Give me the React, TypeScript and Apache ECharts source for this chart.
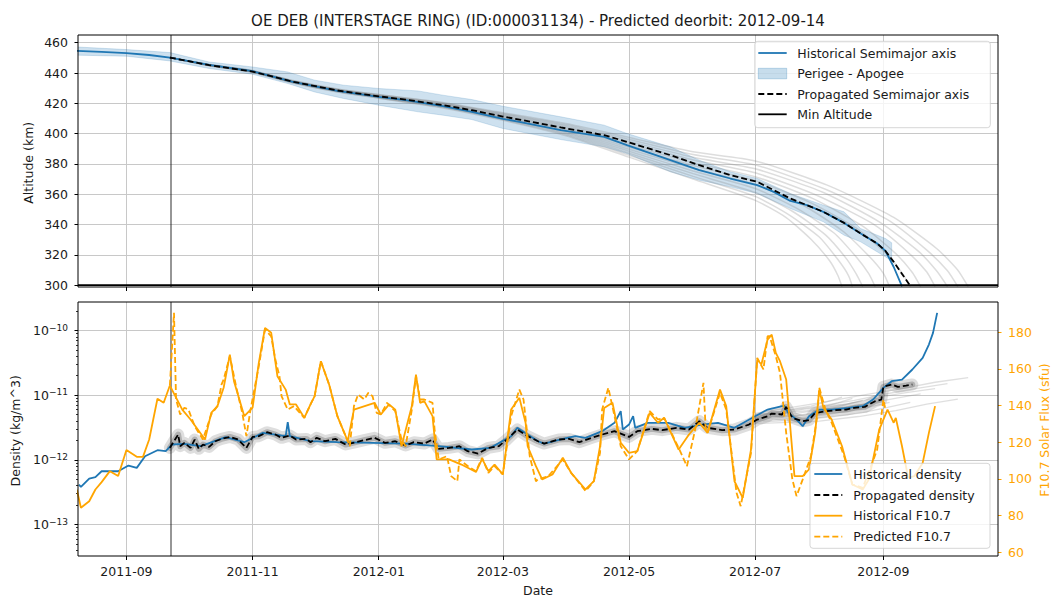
import React, { useEffect, useRef } from 'react';
import * as echarts from 'echarts';

// ---------- text ----------
const TITLE = 'OE DEB (INTERSTAGE RING) (ID:000031134) - Predicted deorbit: 2012-09-14';

// ---------- ticks ----------
const xTickDates = ['2011-09-01', '2011-11-01', '2012-01-01', '2012-03-01', '2012-05-01', '2012-07-01', '2012-09-01'];
const altTicks = [300, 320, 340, 360, 380, 400, 420, 440, 460];
const densTickExp = [-13, -12, -11, -10];
const densTickSup = ['−13', '−12', '−11', '−10'];
const fluxTicks = [60, 80, 100, 120, 140, 160, 180];
const propStartDate = '2011-09-22';
const minAltitude = 300;

// ---------- top: semimajor axis ----------
const smaDates = ['2011-08-08', '2011-08-20', '2011-09-01', '2011-09-12', '2011-09-22', '2011-10-11', '2011-11-01', '2011-11-20', '2011-12-12', '2012-01-01', '2012-01-14', '2012-02-01', '2012-02-15', '2012-03-01', '2012-03-09', '2012-03-29', '2012-04-19', '2012-04-30', '2012-05-21', '2012-06-04', '2012-06-19', '2012-07-02', '2012-07-10', '2012-07-18', '2012-07-26', '2012-08-03', '2012-08-13', '2012-08-21', '2012-08-29', '2012-09-02', '2012-09-06', '2012-09-10'];
const smaHist = [454.6, 453.9, 453.2, 451.9, 450.2, 445.4, 441.2, 434.3, 428.2, 424.2, 422.1, 418.1, 414.4, 409.8, 407.8, 402.3, 397.9, 392.4, 382.5, 375.9, 370.4, 366.0, 361.6, 355.6, 352.8, 348.4, 341.1, 334.1, 327.5, 322.6, 312.0, 299.2];

const smaPropDates = ['2011-09-22', '2011-10-11', '2011-11-01', '2011-11-20', '2011-12-12', '2012-01-01', '2012-01-14', '2012-02-01', '2012-02-15', '2012-03-01', '2012-03-09', '2012-03-29', '2012-04-19', '2012-04-30', '2012-05-21', '2012-06-04', '2012-06-19', '2012-07-02', '2012-07-10', '2012-07-18', '2012-07-26', '2012-08-03', '2012-08-13', '2012-08-21', '2012-08-29', '2012-09-02', '2012-09-06', '2012-09-14'];
const smaProp = [450.2, 445.2, 441.0, 434.4, 428.5, 424.6, 422.5, 418.8, 415.5, 411.3, 409.3, 404.1, 399.0, 394.6, 385.8, 379.2, 372.6, 368.2, 362.7, 357.2, 352.8, 348.4, 341.1, 334.1, 327.5, 322.6, 315.4, 299.5];

const bandDates = ['2011-08-08', '2011-09-01', '2011-09-22', '2011-10-11', '2011-11-01', '2011-11-18', '2011-12-01', '2011-12-15', '2012-01-01', '2012-01-20', '2012-02-01', '2012-02-15', '2012-03-01', '2012-03-29', '2012-04-19', '2012-04-30', '2012-05-21', '2012-06-04', '2012-06-19', '2012-07-02', '2012-07-18', '2012-08-03', '2012-08-13', '2012-08-21', '2012-09-02', '2012-09-05'];
const perigee = [451.8, 451.1, 448.0, 443.0, 439.2, 433.1, 427.5, 423.2, 418.8, 414.4, 412.2, 409.3, 403.4, 396.1, 391.3, 386.9, 374.8, 369.3, 364.9, 360.5, 350.6, 341.8, 333.0, 328.6, 318.7, 316.0];
const apogee = [457.2, 455.5, 453.5, 447.3, 444.0, 440.7, 435.3, 432.0, 429.8, 428.2, 425.4, 422.5, 418.1, 411.1, 405.6, 400.1, 391.3, 382.5, 374.8, 370.4, 360.5, 352.8, 348.4, 337.4, 330.8, 328.0];

// ensemble of propagated semimajor axis trajectories: common early dates + individual decay tails
const ensDates = ['2011-09-22', '2011-10-11', '2011-11-01', '2011-11-20', '2011-12-12', '2012-01-01', '2012-02-01', '2012-03-01', '2012-04-01', '2012-05-01', '2012-06-01', '2012-07-01'];
const ensEarly: number[][] = [
  [450.2, 444.8, 440.4, 433.6, 427.5, 423.4, 417.0, 408.8, 398.5, 384.5, 370.0, 356.0],
  [450.2, 444.9, 440.5, 433.8, 427.7, 423.6, 417.4, 409.3, 399.3, 385.8, 371.8, 358.6],
  [450.2, 445.0, 440.6, 433.9, 427.9, 423.9, 417.7, 409.8, 400.1, 387.1, 373.6, 361.2],
  [450.2, 445.0, 440.8, 434.1, 428.1, 424.1, 418.1, 410.3, 400.9, 388.4, 375.4, 363.8],
  [450.2, 445.1, 440.9, 434.2, 428.3, 424.4, 418.4, 410.8, 401.7, 389.7, 377.2, 366.4],
  [450.2, 445.2, 441.0, 434.4, 428.5, 424.6, 418.8, 411.3, 402.5, 391.0, 379.0, 369.0],
  [450.2, 445.3, 441.1, 434.6, 428.7, 424.8, 419.2, 411.8, 403.3, 392.3, 380.8, 371.6],
  [450.2, 445.4, 441.2, 434.7, 428.9, 425.1, 419.5, 412.3, 404.1, 393.6, 382.6, 374.2],
  [450.2, 445.4, 441.4, 434.9, 429.1, 425.3, 419.9, 412.8, 404.9, 394.9, 384.4, 376.8],
  [450.2, 445.5, 441.5, 435.0, 429.3, 425.6, 420.2, 413.3, 405.7, 396.2, 386.2, 379.4],
  [450.2, 445.6, 441.6, 435.2, 429.5, 425.8, 420.6, 413.8, 406.5, 397.5, 388.0, 382.0],
];
const ensTails: [string, number][][] = [
  [['2012-07-16', 344.6], ['2012-07-28', 330.3], ['2012-08-06', 316.1], ['2012-08-10', 306.4], ['2012-08-12', 299.0]],
  [['2012-07-17', 346.7], ['2012-08-01', 331.8], ['2012-08-10', 316.9], ['2012-08-15', 306.7], ['2012-08-17', 299.0]],
  [['2012-07-19', 348.8], ['2012-08-04', 333.2], ['2012-08-14', 317.7], ['2012-08-19', 307.1], ['2012-08-22', 299.0]],
  [['2012-07-21', 350.8], ['2012-08-08', 334.6], ['2012-08-19', 318.4], ['2012-08-25', 307.4], ['2012-08-28', 299.0]],
  [['2012-07-24', 352.9], ['2012-08-12', 336.1], ['2012-08-25', 319.2], ['2012-09-01', 307.8], ['2012-09-04', 299.0]],
  [['2012-07-27', 355.0], ['2012-08-19', 337.5], ['2012-09-03', 320.0], ['2012-09-10', 308.1], ['2012-09-14', 299.0]],
  [['2012-07-29', 357.1], ['2012-08-22', 338.9], ['2012-09-07', 320.8], ['2012-09-15', 308.4], ['2012-09-19', 299.0]],
  [['2012-07-31', 359.2], ['2012-08-27', 340.4], ['2012-09-13', 321.6], ['2012-09-22', 308.7], ['2012-09-26', 299.0]],
  [['2012-08-03', 361.2], ['2012-08-30', 341.8], ['2012-09-18', 322.3], ['2012-09-27', 309.0], ['2012-10-02', 299.0]],
  [['2012-08-04', 363.3], ['2012-09-03', 343.2], ['2012-09-22', 323.1], ['2012-10-02', 309.5], ['2012-10-07', 299.0]],
  [['2012-08-06', 365.4], ['2012-09-06', 344.7], ['2012-09-27', 323.9], ['2012-10-07', 309.9], ['2012-10-12', 299.0]],
];

// ---------- bottom: density (log10 kg/m^3) ----------
const densHistDates = ['2011-08-09', '2011-08-10', '2011-08-14', '2011-08-17', '2011-08-20', '2011-08-28', '2011-09-02', '2011-09-06', '2011-09-10', '2011-09-16', '2011-09-20', '2011-09-23', '2011-09-29', '2011-10-07', '2011-10-19', '2011-10-28', '2011-11-06', '2011-11-12', '2011-11-17', '2011-11-18', '2011-11-19', '2011-11-29', '2011-12-12', '2011-12-29', '2012-01-14', '2012-01-30', '2012-02-15', '2012-02-24', '2012-03-05', '2012-03-08', '2012-03-18', '2012-03-21', '2012-03-30', '2012-04-05', '2012-04-10', '2012-04-18', '2012-04-24', '2012-04-27', '2012-04-28', '2012-05-01', '2012-05-03', '2012-05-04', '2012-05-10', '2012-05-20', '2012-05-28', '2012-06-05', '2012-06-13', '2012-06-21', '2012-07-01', '2012-07-07', '2012-07-15', '2012-07-17', '2012-07-21', '2012-07-24', '2012-07-27', '2012-08-01', '2012-08-07', '2012-08-15', '2012-08-22', '2012-08-27', '2012-09-01', '2012-09-05', '2012-09-10', '2012-09-15', '2012-09-20', '2012-09-23', '2012-09-25', '2012-09-27'];
const densHist = [-12.382, -12.418, -12.289, -12.268, -12.176, -12.176, -12.088, -12.124, -11.944, -11.851, -11.866, -11.763, -11.753, -11.789, -11.650, -11.727, -11.583, -11.609, -11.634, -11.418, -11.634, -11.712, -11.727, -11.737, -11.748, -11.789, -11.840, -11.815, -11.634, -11.505, -11.712, -11.748, -11.676, -11.634, -11.660, -11.557, -11.428, -11.248, -11.531, -11.454, -11.325, -11.505, -11.428, -11.428, -11.505, -11.454, -11.428, -11.505, -11.325, -11.222, -11.160, -11.274, -11.377, -11.480, -11.325, -11.222, -11.222, -11.196, -11.170, -11.067, -10.887, -10.784, -10.758, -10.603, -10.423, -10.217, -10.036, -9.727];

const densPropDates = ['2011-09-22', '2011-09-24', '2011-09-26', '2011-09-27', '2011-09-29', '2011-10-02', '2011-10-04', '2011-10-06', '2011-10-08', '2011-10-11', '2011-10-14', '2011-10-17', '2011-10-21', '2011-10-25', '2011-10-29', '2011-11-01', '2011-11-04', '2011-11-08', '2011-11-12', '2011-11-15', '2011-11-19', '2011-11-22', '2011-11-27', '2011-11-29', '2011-12-02', '2011-12-06', '2011-12-11', '2011-12-16', '2011-12-21', '2011-12-25', '2011-12-30', '2012-01-04', '2012-01-09', '2012-01-14', '2012-01-18', '2012-01-23', '2012-01-27', '2012-01-30', '2012-02-04', '2012-02-09', '2012-02-13', '2012-02-18', '2012-02-23', '2012-02-28', '2012-03-03', '2012-03-08', '2012-03-13', '2012-03-18', '2012-03-21', '2012-03-28', '2012-04-02', '2012-04-07', '2012-04-13', '2012-04-18', '2012-04-24', '2012-05-01', '2012-05-05', '2012-05-12', '2012-05-17', '2012-05-24', '2012-05-30', '2012-06-04', '2012-06-08', '2012-06-15', '2012-06-21', '2012-06-28', '2012-07-02', '2012-07-07', '2012-07-09', '2012-07-14', '2012-07-16', '2012-07-19', '2012-07-24', '2012-07-27', '2012-07-30', '2012-08-04', '2012-08-09', '2012-08-14', '2012-08-18', '2012-08-23', '2012-08-28', '2012-08-31', '2012-09-01', '2012-09-05', '2012-09-08', '2012-09-12', '2012-09-15'];
const densProp = [-11.815, -11.712, -11.609, -11.789, -11.737, -11.815, -11.686, -11.830, -11.763, -11.800, -11.712, -11.676, -11.645, -11.686, -11.815, -11.645, -11.634, -11.573, -11.609, -11.660, -11.624, -11.686, -11.676, -11.727, -11.660, -11.712, -11.676, -11.763, -11.727, -11.696, -11.660, -11.737, -11.712, -11.779, -11.727, -11.748, -11.686, -11.830, -11.815, -11.789, -11.866, -11.902, -11.815, -11.789, -11.686, -11.531, -11.634, -11.712, -11.748, -11.686, -11.676, -11.727, -11.660, -11.609, -11.557, -11.645, -11.557, -11.521, -11.541, -11.505, -11.531, -11.403, -11.505, -11.541, -11.531, -11.454, -11.377, -11.325, -11.284, -11.299, -11.181, -11.351, -11.403, -11.387, -11.274, -11.248, -11.232, -11.222, -11.196, -11.181, -11.093, -11.067, -10.871, -10.835, -10.871, -10.851, -10.835];

// ensemble of propagated densities (late part, where they spread out)
const densEnsemble: [string, number][][] = [
  [['2012-07-01', -11.30], ['2012-07-12', -11.27], ['2012-07-20', -11.21], ['2012-07-28', -11.17], ['2012-08-05', -11.10], ['2012-08-12', -11.03]],
  [['2012-07-01', -11.32], ['2012-07-14', -11.28], ['2012-07-24', -11.22], ['2012-08-03', -11.18], ['2012-08-10', -11.12], ['2012-08-17', -11.05]],
  [['2012-07-01', -11.35], ['2012-07-16', -11.31], ['2012-07-27', -11.25], ['2012-08-06', -11.21], ['2012-08-15', -11.14], ['2012-08-22', -11.08]],
  [['2012-07-01', -11.38], ['2012-07-18', -11.33], ['2012-08-01', -11.28], ['2012-08-12', -11.22], ['2012-08-21', -11.15], ['2012-08-28', -11.09]],
  [['2012-07-01', -11.40], ['2012-07-20', -11.36], ['2012-08-03', -11.31], ['2012-08-16', -11.24], ['2012-08-27', -11.17], ['2012-09-04', -11.11]],
  [['2012-07-01', -11.42], ['2012-07-22', -11.38], ['2012-08-08', -11.33], ['2012-08-22', -11.27], ['2012-09-03', -11.19], ['2012-09-14', -11.11]],
  [['2012-07-01', -11.36], ['2012-07-24', -11.30], ['2012-08-10', -11.21], ['2012-08-26', -11.12], ['2012-09-08', -11.04], ['2012-09-19', -10.98]],
  [['2012-07-01', -11.33], ['2012-07-26', -11.24], ['2012-08-14', -11.14], ['2012-08-30', -11.03], ['2012-09-12', -10.96], ['2012-09-26', -10.90]],
  [['2012-07-01', -11.31], ['2012-07-28', -11.19], ['2012-08-18', -11.08], ['2012-09-04', -10.97], ['2012-09-18', -10.89], ['2012-10-02', -10.82]],
  [['2012-07-01', -11.44], ['2012-08-01', -11.40], ['2012-08-20', -11.33], ['2012-09-07', -11.24], ['2012-09-22', -11.14], ['2012-10-07', -11.06]],
  [['2012-07-01', -11.28], ['2012-08-01', -11.12], ['2012-08-22', -11.00], ['2012-09-10', -10.90], ['2012-09-26', -10.80], ['2012-10-12', -10.73]],
];

// ---------- bottom: F10.7 (sfu) ----------
const f107HistDates = ['2011-08-08', '2011-08-10', '2011-08-14', '2011-08-17', '2011-08-20', '2011-08-24', '2011-08-28', '2011-09-01', '2011-09-06', '2011-09-09', '2011-09-12', '2011-09-16', '2011-09-19', '2011-09-22', '2011-09-28', '2011-10-02', '2011-10-09', '2011-10-12', '2011-10-15', '2011-10-18', '2011-10-21', '2011-10-23', '2011-10-28', '2011-11-01', '2011-11-04', '2011-11-07', '2011-11-10', '2011-11-13', '2011-11-17', '2011-11-19', '2011-11-22', '2011-11-26', '2011-11-29', '2011-12-01', '2011-12-04', '2011-12-08', '2011-12-12', '2011-12-17', '2011-12-20', '2011-12-30', '2012-01-02', '2012-01-06', '2012-01-09', '2012-01-12', '2012-01-17', '2012-01-19', '2012-01-21', '2012-01-23', '2012-01-27', '2012-01-29', '2012-02-04', '2012-02-10', '2012-02-17', '2012-02-20', '2012-02-23', '2012-02-26', '2012-03-01', '2012-03-05', '2012-03-09', '2012-03-12', '2012-03-13', '2012-03-17', '2012-03-20', '2012-03-25', '2012-03-30', '2012-04-03', '2012-04-10', '2012-04-14', '2012-04-17', '2012-04-19', '2012-04-23', '2012-04-27', '2012-05-01', '2012-05-05', '2012-05-11', '2012-05-15', '2012-05-18', '2012-05-25', '2012-05-30', '2012-06-04', '2012-06-08', '2012-06-14', '2012-06-17', '2012-06-21', '2012-06-25', '2012-06-29', '2012-07-02', '2012-07-04', '2012-07-07', '2012-07-09', '2012-07-11', '2012-07-13', '2012-07-16', '2012-07-20', '2012-07-24', '2012-07-27', '2012-07-30', '2012-08-01', '2012-08-03', '2012-08-07', '2012-08-12', '2012-08-17', '2012-08-22', '2012-08-25', '2012-08-30', '2012-09-03', '2012-09-06', '2012-09-07', '2012-09-10', '2012-09-13', '2012-09-16', '2012-09-20', '2012-09-23', '2012-09-26'];
const f107Hist = [94.2, 84.2, 87.8, 94.2, 98.2, 104.2, 101.5, 115.7, 112.0, 112.0, 121.5, 143.7, 141.5, 150.9, 137.8, 132.4, 121.5, 136.0, 139.7, 149.7, 167.8, 153.3, 134.2, 138.8, 163.3, 182.4, 179.7, 156.0, 148.7, 140.6, 140.6, 133.3, 140.6, 145.1, 164.2, 151.5, 134.2, 120.6, 137.8, 141.5, 135.1, 140.6, 137.8, 117.8, 139.7, 156.9, 141.5, 142.4, 134.2, 110.6, 110.6, 107.8, 103.7, 110.9, 104.2, 107.8, 102.4, 137.8, 144.2, 130.6, 117.8, 106.9, 99.7, 102.4, 111.5, 103.3, 94.2, 98.7, 117.8, 138.7, 141.5, 119.7, 114.2, 115.1, 136.0, 130.6, 133.3, 116.0, 124.2, 130.6, 125.1, 148.7, 139.7, 98.7, 89.6, 116.0, 165.1, 162.4, 176.0, 178.7, 168.7, 164.2, 154.2, 101.5, 101.5, 105.1, 125.1, 148.7, 138.8, 132.4, 117.8, 96.9, 94.2, 99.7, 126.9, 137.8, 130.6, 133.3, 117.8, 100.6, 101.5, 108.7, 125.1, 139.7];

const f107PredDates = ['2011-09-22', '2011-09-24', '2011-09-25', '2011-09-27', '2011-09-29', '2011-10-01', '2011-10-04', '2011-10-08', '2011-10-12', '2011-10-15', '2011-10-17', '2011-10-18', '2011-10-21', '2011-10-24', '2011-10-27', '2011-10-29', '2011-10-31', '2011-11-04', '2011-11-07', '2011-11-10', '2011-11-12', '2011-11-14', '2011-11-15', '2011-11-18', '2011-11-21', '2011-11-26', '2011-11-29', '2011-12-01', '2011-12-04', '2011-12-08', '2011-12-12', '2011-12-16', '2011-12-18', '2011-12-20', '2011-12-22', '2011-12-25', '2011-12-27', '2011-12-29', '2011-12-31', '2012-01-02', '2012-01-05', '2012-01-09', '2012-01-12', '2012-01-14', '2012-01-17', '2012-01-19', '2012-01-21', '2012-01-23', '2012-01-27', '2012-01-28', '2012-01-30', '2012-02-03', '2012-02-05', '2012-02-08', '2012-02-09', '2012-02-13', '2012-02-17', '2012-02-20', '2012-02-23', '2012-02-26', '2012-03-01', '2012-03-05', '2012-03-09', '2012-03-11', '2012-03-14', '2012-03-17', '2012-03-18', '2012-03-23', '2012-03-30', '2012-04-03', '2012-04-10', '2012-04-14', '2012-04-17', '2012-04-18', '2012-04-21', '2012-04-24', '2012-04-27', '2012-05-01', '2012-05-05', '2012-05-11', '2012-05-15', '2012-05-18', '2012-05-25', '2012-05-29', '2012-06-02', '2012-06-06', '2012-06-07', '2012-06-08', '2012-06-14', '2012-06-17', '2012-06-22', '2012-06-24', '2012-06-29', '2012-07-02', '2012-07-05', '2012-07-07', '2012-07-08', '2012-07-11', '2012-07-13', '2012-07-16', '2012-07-19', '2012-07-21', '2012-07-24', '2012-07-28', '2012-07-31', '2012-08-01', '2012-08-04', '2012-08-07', '2012-08-13', '2012-08-17', '2012-08-22', '2012-08-26', '2012-08-29', '2012-09-01', '2012-09-02'];
const f107Pred = [150.9, 190.6, 143.3, 135.1, 138.8, 137.8, 128.7, 121.5, 135.1, 139.7, 151.5, 154.2, 166.9, 150.6, 136.0, 123.3, 137.8, 161.5, 181.5, 177.8, 165.1, 156.0, 145.1, 137.8, 139.7, 133.3, 140.6, 145.1, 164.2, 151.5, 134.2, 123.3, 117.8, 139.7, 146.0, 143.3, 147.0, 145.1, 136.0, 135.1, 141.5, 136.9, 121.5, 117.8, 137.8, 156.0, 143.3, 143.3, 141.5, 126.9, 110.6, 112.4, 101.5, 98.7, 110.6, 107.0, 104.2, 111.5, 103.3, 106.9, 102.4, 134.2, 148.7, 143.3, 112.4, 98.7, 99.7, 101.5, 110.6, 103.3, 93.3, 98.7, 114.2, 137.8, 149.7, 134.2, 117.8, 110.6, 115.1, 137.0, 132.4, 133.3, 116.9, 106.9, 126.9, 152.4, 128.7, 125.1, 146.9, 137.8, 92.4, 85.1, 114.2, 166.0, 159.7, 177.8, 177.8, 166.9, 157.8, 125.1, 99.7, 90.6, 99.7, 112.4, 134.2, 149.7, 137.8, 130.6, 112.4, 96.9, 95.1, 106.9, 116.0, 143.3, 137.8];

// ---------- helpers ----------
const t = (s: string) => {
  const [y, m, d] = s.split('-').map(Number);
  return new Date(y, m - 1, d).getTime();
};
const HOUR = 3600 * 1000;
const xMin = t('2011-08-08') + 14 * HOUR;
const xMax = t('2012-10-26') + 10 * HOUR;
const propStart = t(propStartDate) + 14 * HOUR;
const pairs = (dates: string[], vals: number[]) => dates.map((d, i) => [t(d), vals[i]]);
const xTicks = xTickDates.map(t);
const minorDens: number[] = [];
for (let e = -14; e <= -10; e++) {
  for (let k = 2; k <= 9; k++) {
    const v = e + Math.log10(k);
    if (v > -13.487 && v < -9.559) minorDens.push(v);
  }
}

const FONT = 'DejaVu Sans';
const BLUE = '#1f77b4';
const ORANGE = '#ffa500';
const GRIDC = '#c8c8c8';
const TXT = '#1a1a1a';
const FS = 12.5;

const fmtMonth = (v: number) => {
  const d = new Date(v);
  return `${d.getFullYear()}-${String(d.getMonth() + 1).padStart(2, '0')}`;
};

const vLine = {
  symbol: 'none',
  silent: true,
  animation: false,
  label: { show: false },
  lineStyle: { color: 'rgba(0,0,0,0.55)', width: 1.5, type: 'solid' },
  data: [{ xAxis: propStart }],
};

const legendBox = (x: number, y: number, w: number, h: number) => ({
  type: 'rect', z: 100, shape: { x, y, width: w, height: h, r: 3 },
  style: { fill: 'rgba(255,255,255,0.8)', stroke: 'rgba(204,204,204,0.8)', lineWidth: 1 },
});
const lgLine = (x1: number, x2: number, y: number, color: string, dash?: number[]) => ({
  type: 'line', z: 101, shape: { x1, y1: y, x2, y2: y },
  style: { stroke: color, lineWidth: 1.8, lineDash: dash || null },
});
const lgText = (x: number, y: number, text: string) => ({
  type: 'text', z: 101, x, y,
  style: { text, fontFamily: FONT, fontSize: FS, fill: TXT, align: 'left', verticalAlign: 'middle' },
});

function buildOption(): any {
  const series: any[] = [];

  // --- top panel ---
  series.push({
    type: 'custom',
    xAxisIndex: 0, yAxisIndex: 0,
    clip: true, silent: true, z: 1,
    data: bandDates.map((d, i) => [t(d), perigee[i], apogee[i]]),
    encode: { x: 0, y: [1, 2] },
    renderItem: (params: any, api: any) => {
      if (params.dataIndex !== 0) return null;
      const up = bandDates.map((d, i) => api.coord([t(d), apogee[i]]));
      const lo = bandDates.map((d, i) => api.coord([t(d), perigee[i]])).reverse();
      return {
        type: 'polygon',
        shape: { points: up.concat(lo) },
        style: { fill: 'rgba(31,119,180,0.22)', stroke: 'rgba(31,119,180,0.18)', lineWidth: 1 },
      };
    },
  });
  ensEarly.forEach((vals, k) => {
    const data = pairs(ensDates, vals).concat(ensTails[k].map(([d, v]) => [t(d), v]));
    series.push({
      type: 'line', xAxisIndex: 0, yAxisIndex: 0, silent: true, z: 2,
      data, symbol: 'none', smooth: 0.2,
      lineStyle: { color: 'rgba(128,128,128,0.27)', width: 1.5 },
    });
  });
  series.push({
    name: 'Historical Semimajor axis', type: 'line', xAxisIndex: 0, yAxisIndex: 0, z: 3,
    data: pairs(smaDates, smaHist), symbol: 'none',
    lineStyle: { color: BLUE, width: 1.8 },
  });
  series.push({
    name: 'Propagated Semimajor axis', type: 'line', xAxisIndex: 0, yAxisIndex: 0, z: 4,
    data: pairs(smaPropDates, smaProp), symbol: 'none',
    lineStyle: { color: '#000', width: 1.8, type: [6, 3] },
  });
  series.push({
    name: 'Min Altitude', type: 'line', xAxisIndex: 0, yAxisIndex: 0, z: 5,
    data: [[xMin, minAltitude], [xMax, minAltitude]], symbol: 'none',
    lineStyle: { color: '#000', width: 1.8 },
    markLine: vLine,
  });

  // --- bottom panel ---
  series.push({
    type: 'line', xAxisIndex: 1, yAxisIndex: 1, silent: true, z: 1,
    data: pairs(densPropDates, densProp), symbol: 'none',
    lineStyle: { color: 'rgba(0,0,0,0.13)', width: 12, join: 'round', cap: 'round' },
  });
  series.push({
    type: 'line', xAxisIndex: 1, yAxisIndex: 1, silent: true, z: 1,
    data: pairs(densPropDates, densProp), symbol: 'none',
    lineStyle: { color: 'rgba(0,0,0,0.2)', width: 6, join: 'round', cap: 'round' },
  });
  densEnsemble.forEach((m) => {
    series.push({
      type: 'line', xAxisIndex: 1, yAxisIndex: 1, silent: true, z: 2,
      data: m.map(([d, v]) => [t(d), v]), symbol: 'none',
      lineStyle: { color: 'rgba(128,128,128,0.25)', width: 1.3 },
    });
  });
  series.push({
    name: 'Historical density', type: 'line', xAxisIndex: 1, yAxisIndex: 1, z: 3,
    data: pairs(densHistDates, densHist), symbol: 'none',
    lineStyle: { color: BLUE, width: 1.8 },
    markLine: vLine,
  });
  series.push({
    name: 'Propagated density', type: 'line', xAxisIndex: 1, yAxisIndex: 1, z: 4,
    data: pairs(densPropDates, densProp), symbol: 'none',
    lineStyle: { color: '#000', width: 1.8, type: [6, 3] },
  });
  series.push({
    name: 'Historical F10.7', type: 'line', xAxisIndex: 1, yAxisIndex: 2, z: 6,
    data: pairs(f107HistDates, f107Hist), symbol: 'none',
    lineStyle: { color: ORANGE, width: 1.8 },
  });
  series.push({
    name: 'Predicted F10.7', type: 'line', xAxisIndex: 1, yAxisIndex: 2, z: 5,
    data: pairs(f107PredDates, f107Pred), symbol: 'none',
    lineStyle: { color: ORANGE, width: 1.8, type: [6, 3] },
  });

  const axisText = { fontFamily: FONT, fontSize: FS, color: TXT };

  const baseX = (grid: number, showLabel: boolean) => ({
    type: 'value', gridIndex: grid, min: xMin, max: xMax, scale: true,
    axisLine: { show: false },
    axisTick: { show: true, length: 4, lineStyle: { color: '#000' }, customValues: xTicks },
    axisLabel: { show: showLabel, customValues: xTicks, formatter: fmtMonth, margin: 9, ...axisText },
    splitLine: { show: true, lineStyle: { color: GRIDC, width: 1 } },
  });

  return {
    animation: false,
    backgroundColor: '#ffffff',
    textStyle: { fontFamily: FONT },
    grid: [
      { left: 78, top: 35, width: 920, height: 252, show: true, borderColor: '#000', borderWidth: 1, backgroundColor: 'transparent', z: 10 },
      { left: 78, top: 302, width: 920, height: 254, show: true, borderColor: '#000', borderWidth: 1, backgroundColor: 'transparent', z: 10 },
    ],
    xAxis: [baseX(0, false), baseX(1, true)],
    yAxis: [
      {
        type: 'value', gridIndex: 0, min: 298.8, max: 465.1,
        axisLine: { show: false },
        axisTick: { show: true, length: 3.5, lineStyle: { color: '#000' }, customValues: altTicks },
        axisLabel: { customValues: altTicks, margin: 10, ...axisText },
        splitLine: { show: true, lineStyle: { color: GRIDC, width: 1 } },
      },
      {
        type: 'value', gridIndex: 1, min: -13.487, max: -9.559,
        axisLine: { show: false },
        axisTick: { show: true, length: 3.5, lineStyle: { color: '#000' }, customValues: densTickExp },
        axisLabel: {
          customValues: densTickExp, margin: 10, ...axisText,
          formatter: (v: number) => {
            const i = densTickExp.indexOf(Math.round(v));
            return i < 0 ? '' : `{b|10}{e|${densTickSup[i]}}`;
          },
          rich: {
            b: { fontFamily: FONT, fontSize: FS, color: TXT },
            e: { fontFamily: FONT, fontSize: 9, color: TXT, padding: [0, 0, 6, 0] },
          },
        },
        splitLine: { show: true, lineStyle: { color: GRIDC, width: 1 } },
      },
      {
        type: 'value', gridIndex: 1, position: 'right', min: 57.9, max: 196.5,
        axisLine: { show: false },
        axisTick: { show: true, length: 3.5, lineStyle: { color: ORANGE }, customValues: fluxTicks },
        axisLabel: { customValues: fluxTicks, margin: 10, fontFamily: FONT, fontSize: FS, color: ORANGE },
        splitLine: { show: false },
      },
      {
        type: 'value', gridIndex: 1, position: 'left', offset: 0, min: -13.487, max: -9.559,
        axisLine: { show: false },
        axisTick: { show: true, length: 2, lineStyle: { color: '#000', width: 0.8 }, customValues: minorDens },
        axisLabel: { show: false, customValues: minorDens },
        splitLine: { show: false },
      },
    ],
    series,
    graphic: [
      { type: 'text', x: 538, y: 20.8, style: { text: TITLE, fontFamily: FONT, fontSize: 15, fill: TXT, align: 'center', verticalAlign: 'middle' } },
      { type: 'text', x: 28.7, y: 162.8, rotation: Math.PI / 2, style: { text: 'Altitude (km)', fontFamily: FONT, fontSize: FS, fill: TXT, align: 'center', verticalAlign: 'middle' } },
      { type: 'text', x: 15.6, y: 430.8, rotation: Math.PI / 2, style: { text: 'Density (kg/m^3)', fontFamily: FONT, fontSize: FS, fill: TXT, align: 'center', verticalAlign: 'middle' } },
      { type: 'text', x: 1044, y: 430, rotation: Math.PI / 2, style: { text: 'F10.7 Solar Flux (sfu)', fontFamily: FONT, fontSize: FS, fill: ORANGE, align: 'center', verticalAlign: 'middle' } },
      { type: 'text', x: 538, y: 590.8, style: { text: 'Date', fontFamily: FONT, fontSize: FS, fill: TXT, align: 'center', verticalAlign: 'middle' } },
      // top legend
      legendBox(754.8, 41.3, 235.5, 86.4),
      lgLine(758.3, 786.7, 53, BLUE),
      { type: 'rect', z: 101, shape: { x: 758.3, y: 68.3, width: 28.4, height: 10.5 }, style: { fill: 'rgba(31,119,180,0.25)', stroke: 'rgba(31,119,180,0.25)', lineWidth: 1 } },
      lgLine(758.3, 786.7, 94, '#000', [6, 3]),
      lgLine(758.3, 786.7, 114.3, '#000'),
      lgText(797.3, 53, 'Historical Semimajor axis'),
      lgText(797.3, 73.5, 'Perigee - Apogee'),
      lgText(797.3, 94, 'Propagated Semimajor axis'),
      lgText(797.3, 114.3, 'Min Altitude'),
      // bottom legend
      legendBox(810, 463.3, 180, 85),
      lgLine(814.3, 842.3, 474, BLUE),
      lgLine(814.3, 842.3, 495, '#000', [6, 3]),
      lgLine(814.3, 842.3, 515.7, ORANGE),
      lgLine(814.3, 842.3, 536.7, ORANGE, [6, 3]),
      lgText(853.3, 474, 'Historical density'),
      lgText(853.3, 495, 'Propagated density'),
      lgText(853.3, 515.7, 'Historical F10.7'),
      lgText(853.3, 536.7, 'Predicted F10.7'),
    ],
  };
}

export default function App() {
  const ref = useRef<HTMLDivElement>(null);
  useEffect(() => {
    if (!ref.current) return;
    const chart = echarts.init(ref.current, null, { renderer: 'svg' });
    chart.setOption(buildOption());
    return () => chart.dispose();
  }, []);
  return (
    <div
      ref={ref}
      style={{ position: 'absolute', left: 0, top: 0, width: 1052, height: 597, background: '#fff' }}
    />
  );
}
